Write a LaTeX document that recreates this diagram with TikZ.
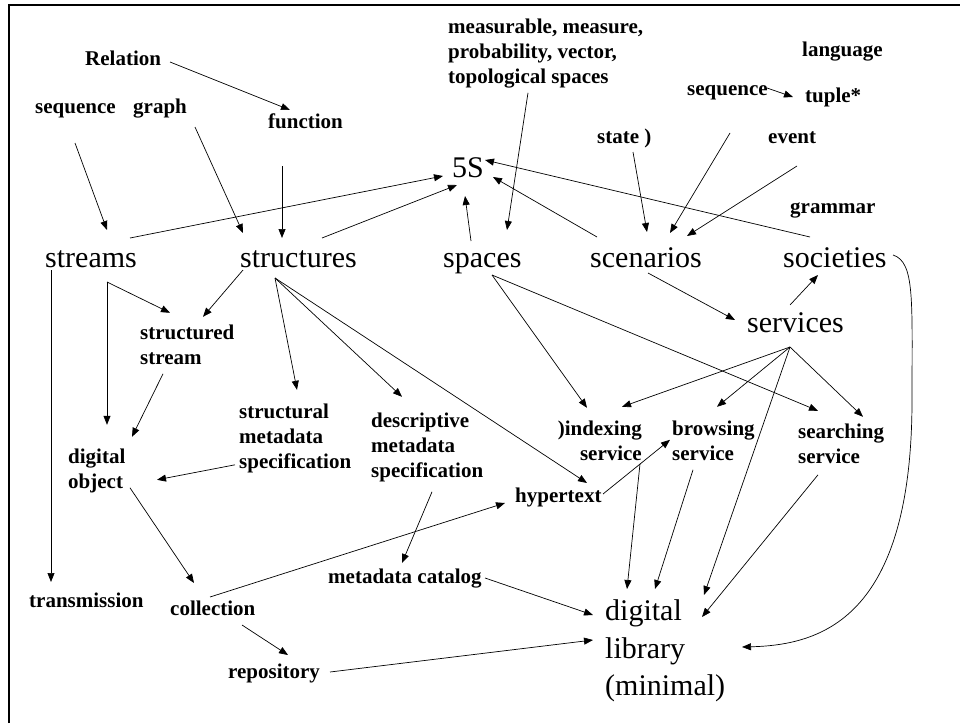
\documentclass[tikz,border=0pt]{standalone}
\usepackage{fontspec}
\setmainfont{Liberation Serif}
\usetikzlibrary{arrows.meta, calc}

\tikzset{
  lbl/.style={font=\fontsize{21}{25}\selectfont\bfseries, inner sep=0pt, anchor=base west},
  lbls/.style={lbl, align=left, anchor=north west},
  big/.style={font=\fontsize{30}{37.5}\selectfont, inner sep=0pt, anchor=base west},
  link/.style={-{Triangle[length=9pt,width=7pt]}, line width=0.7pt},
}

\begin{document}
\begin{tikzpicture}[x=1pt, y=-1pt]
  \useasboundingbox (0,0) rectangle (960,723);
  \draw[line width=2pt] (9,723) -- (9,5) -- (960,5);

  % the five S
  \node[big] (fiveS) at (452,177) {5S};
  \node[big] (streams) at (45,267) {streams};
  \node[big] (structs) at (240,267) {structures};
  \node[big] (spaces) at (443,267) {spaces};
  \node[big] (scen) at (590,267) {scenarios};
  \node[big] (soc) at (783,267) {societies};
  \node[big] (serv) at (747,332) {services};

  % top labels
  \node[lbl] (rel) at (85,65) {Relation};
  \node[lbl] (seqL) at (35,113) {sequence};
  \node[lbl] (graph) at (133,113) {graph};
  \node[lbl] (func) at (268,128) {function};
  \node[lbls] (meas) at (448,18.8) {measurable, measure,\\probability, vector,\\topological spaces};
  \node[lbl] (lang) at (802,56) {language};
  \node[lbl] (seqR) at (687,95) {sequence};
  \node[lbl] (tuple) at (805,102) {tuple*};
  \node[lbl] (state) at (597,143) {state )};
  \node[lbl] (event) at (768,143) {event};
  \node[lbl] (gram) at (790,213) {grammar};

  % lower labels
  \node[lbls] (stst) at (140,324.8) {structured\\stream};
  \node[lbls] (stmd) at (239,403.8) {structural\\metadata\\specification};
  \node[lbls] (demd) at (371,412.8) {descriptive\\metadata\\specification};
  \node[lbls] (dobj) at (68,448.8) {digital\\object};
  \node[lbls, align=right, anchor=north east] (index) at (642,420.8) {)indexing\\service};
  \node[lbls] (brows) at (672,420.8) {browsing\\service};
  \node[lbls] (search) at (798,423.8) {searching\\service};
  \node[lbl] (hyper) at (515,502) {hypertext};
  \node[lbl] (trans) at (29,607) {transmission};
  \node[lbl] (coll) at (170,615) {collection};
  \node[lbl] (mcat) at (328,583) {metadata catalog};
  \node[lbl] (repo) at (228,678) {repository};
  \node[big, align=left, anchor=north west] (dlib) at (605,599.5) {digital\\library\\(minimal)};

  % upper arrows
  \draw[link] ($(rel.base west)+(85,-3)$) -- ($(func.base west)+(22,-18)$);
  \draw[link] ($(seqL.base west)+(40,30)$) -- ($(streams.base west)+(62,-37)$);
  \draw[link] ($(graph.base west)+(62,14)$) -- ($(structs.base west)+(3,-34)$);
  \draw[link] ($(func.base west)+(14,38)$) -- ($(structs.base west)+(42,-29)$);
  \draw[link] ($(streams.base west)+(85,-29)$) -- ($(fiveS.base west)+(-9,-1)$);
  \draw[link] ($(structs.base west)+(82,-29)$) -- ($(fiveS.base west)+(5,8)$);
  \draw[link] ($(spaces.base west)+(28,-26)$) -- ($(fiveS.base west)+(13,19)$);
  \draw[link] ($(scen.base west)+(7,-30)$) -- ($(fiveS.base west)+(41,0)$);
  \draw[link] ($(soc.base west)+(27,-30)$) -- ($(fiveS.base west)+(33,-17)$);
  \draw[link] ($(meas.north west)+(80,74)$) -- ($(spaces.base west)+(64,-37)$);
  \draw[link] ($(state.base west)+(36,9)$) -- ($(scen.base west)+(57,-35)$);
  \draw[link] ($(seqR.base west)+(43,38)$) -- ($(scen.base west)+(80,-34)$);
  \draw[link] ($(event.base west)+(29,23)$) -- ($(scen.base west)+(97,-31)$);
  \draw[link] ($(seqR.base west)+(80,-7)$) -- ($(tuple.base west)+(-12,-5)$);

  % streams and structures
  \draw[link] ($(streams.base west)+(6,3)$) -- ($(trans.base west)+(22,-25)$);
  \draw[link] ($(streams.base west)+(62,15)$) -- ($(stst.north west)+(30,-12)$);
  \draw[link] ($(streams.base west)+(62,15)$) -- ($(dobj.north west)+(39,-24)$);
  \draw[link] ($(structs.base west)+(3,3)$) -- ($(stst.north west)+(63,-8)$);
  \draw[link] ($(stst.north west)+(23,49)$) -- ($(dobj.north west)+(64,-12)$);
  \draw[link] ($(structs.base west)+(35,11)$) -- ($(stmd.north west)+(58,-14)$);
  \draw[link] ($(structs.base west)+(35,11)$) -- ($(demd.north west)+(31,-16)$);
  \draw[link] ($(structs.base west)+(35,11)$) -- ($(hyper.base west)+(72,-19)$);
  \draw[link] ($(stmd.north west)+(-4,61)$) -- ($(dobj.north west)+(89,31)$);
  \draw[link] ($(demd.north west)+(61,79)$) -- ($(mcat.base west)+(74,-20)$);
  \draw[link] ($(dobj.north west)+(62,39)$) -- ($(coll.base west)+(24,-32)$);
  \draw[link] ($(coll.base west)+(40,-18)$) -- ($(hyper.base west)+(-10,1)$);
  \draw[link] ($(coll.base west)+(72,10)$) -- ($(repo.base west)+(60,-23)$);
  \draw[link] ($(repo.base west)+(102,-6)$) -- ($(dlib.north west)+(-12,40.5)$);
  \draw[link] ($(mcat.base west)+(157,-5)$) -- ($(dlib.north west)+(-12,15.5)$);

  % spaces, scenarios, services
  \draw[link] ($(spaces.base west)+(49,8)$) -- ($(index.north east)+(-55,-13)$);
  \draw[link] ($(spaces.base west)+(49,8)$) -- ($(search.north west)+(20,-13)$);
  \draw[link] ($(scen.base west)+(58,6)$) -- ($(serv.base west)+(-12,-12)$);
  \draw[link] ($(serv.base west)+(43,-27)$) -- ($(soc.base west)+(35,8)$);
  \draw[link] ($(serv.base west)+(43,15)$) -- ($(index.north east)+(-20,-14)$);
  \draw[link] ($(serv.base west)+(43,15)$) -- ($(brows.north west)+(45,-14)$);
  \draw[link] ($(serv.base west)+(43,15)$) -- ($(search.north west)+(65,-7)$);
  \draw[link] ($(serv.base west)+(43,15)$) -- ($(dlib.north west)+(99,-4.5)$);
  \draw[link] ($(hyper.base west)+(88,-8)$) -- ($(brows.north west)+(-2,19)$);
  \draw[link] ($(index.north east)+(-2,43)$) -- ($(dlib.north west)+(22,-10.5)$);
  \draw[link] ($(brows.north west)+(21,49)$) -- ($(dlib.north west)+(50,-10.5)$);
  \draw[link] ($(search.north west)+(20,51)$) -- ($(dlib.north west)+(97,17.5)$);
  \draw[link] ($(soc.base west)+(110,-12)$)
      .. controls ($(soc.base west)+(132,-5)$) and ($(soc.base west)+(129,33)$) .. ($(soc.base west)+(129,133)$)
      .. controls ($(dlib.north west)+(307,20.5)$) and ($(dlib.north west)+(215,45.5)$) .. ($(dlib.north west)+(137,47.5)$);
\end{tikzpicture}
\end{document}
